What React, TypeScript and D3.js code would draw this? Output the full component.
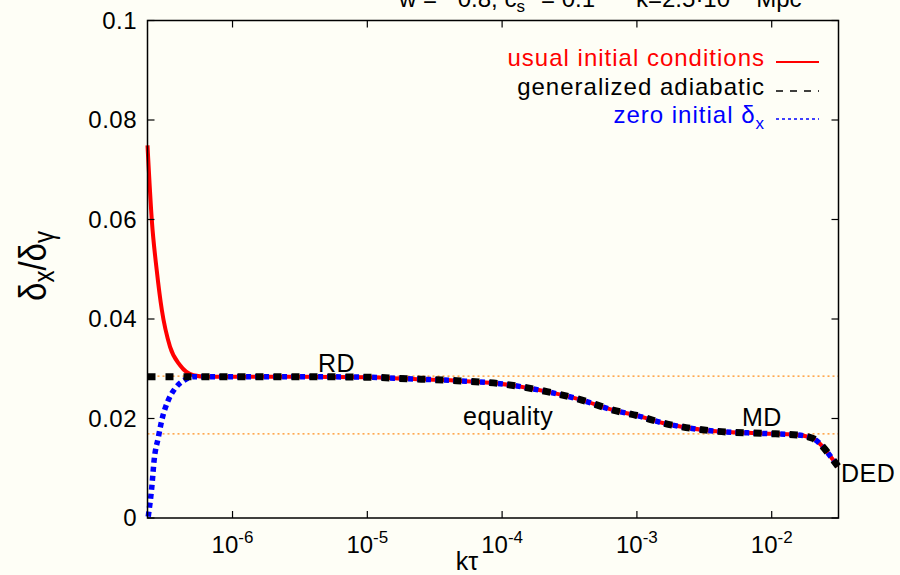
import React, { useEffect, useRef } from "react";
import * as d3 from "d3";

// shared tail: all three solutions merge after ~6e-7
const tailK = [6.44e-7, 1e-6, 3.16e-6, 1e-5, 1.97e-5, 4.62e-5, 9.64e-5, 2.15e-4, 3.8e-4, 6.65e-4, 1.0e-3, 1.56e-3, 3.67e-3, 8.63e-3, 1.54e-2, 2.02e-2, 2.4e-2, 2.85e-2, 3.1e-2];
const tailV = [0.0284, 0.0284, 0.0284, 0.0283, 0.028, 0.0276, 0.027, 0.0254, 0.0238, 0.0217, 0.0206, 0.0191, 0.0175, 0.017, 0.0167, 0.016, 0.0143, 0.0117, 0.0104];

// usual initial conditions (red)
const usualK = [2.34e-7, 2.52e-7, 2.74e-7, 2.99e-7, 3.44e-7, 4.08e-7, 5.12e-7];
const usualV = [0.0749, 0.0598, 0.0498, 0.0418, 0.0344, 0.0307, 0.0287];

// generalized adiabatic (black dashed)
const adiabK = [2.34e-7, 5.12e-7];
const adiabV = [0.0284, 0.0284];

// zero initial delta_x (blue dotted)
const zeroK = [2.37e-7, 2.52e-7, 2.62e-7, 2.82e-7, 2.99e-7, 3.34e-7, 3.74e-7, 4.32e-7, 5.12e-7];
const zeroV = [0.0003, 0.0063, 0.0116, 0.0163, 0.0197, 0.0237, 0.026, 0.0276, 0.0284];

// reference levels (RD plateau, MD plateau)
const levels = [0.0285, 0.0169];

const xTicks = [1e-6, 1e-5, 1e-4, 1e-3, 1e-2];
const xTickExp = ["-6", "-5", "-4", "-3", "-2"];
const yTicks = [0, 0.02, 0.04, 0.06, 0.08, 0.1];
const yTickLabels = ["0", "0.02", "0.04", "0.06", "0.08", "0.1"];

const legendLabels = ["usual initial conditions", "generalized adiabatic", "zero initial δ"];
const legendColors = ["#ff0000", "#000000", "#0000ff"];

const FONT = "'Liberation Sans', Arial, Helvetica, sans-serif";

const App = () => {
  const svgRef = useRef(null);

  useEffect(() => {
    document.body.style.margin = "0";
    document.body.style.background = "#fefef6";

    const svg = d3.select(svgRef.current);
    svg.selectAll("*").remove();

    const left = 147.5, right = 838.5, top = 20.5, bottom = 518;
    const x = d3.scaleLog().domain([2.34e-7, 3.13e-2]).range([left, right]);
    const y = d3.scaleLinear().domain([0, 0.1]).range([bottom, top]);

    svg.append("rect").attr("width", 900).attr("height", 575).attr("fill", "#fefef6");

    const toPts = (ks, vs) => ks.map((k, i) => [k, vs[i]]);
    const tail = toPts(tailK, tailV);
    const line = d3.line()
      .x(d => x(d[0]))
      .y(d => y(d[1]))
      .curve(d3.curveMonotoneX);

    // dotted reference levels
    svg.selectAll(".lvl")
      .data(levels)
      .enter()
      .append("line")
      .attr("x1", left).attr("x2", right)
      .attr("y1", d => y(d)).attr("y2", d => y(d))
      .attr("stroke", "#ff8c1a")
      .attr("stroke-width", 1.2)
      .attr("stroke-dasharray", "2,3");

    const plot = svg.append("g");
    plot.append("path")
      .attr("d", line(toPts(usualK, usualV).concat(tail)))
      .attr("fill", "none").attr("stroke", "#ff0000").attr("stroke-width", 4);
    plot.append("path")
      .attr("d", line(toPts(zeroK, zeroV).concat(tail)))
      .attr("fill", "none").attr("stroke", "#0000ff").attr("stroke-width", 5.5)
      .attr("stroke-dasharray", "5,4");
    plot.append("path")
      .attr("d", line(toPts(adiabK, adiabV).concat(tail)))
      .attr("fill", "none").attr("stroke", "#000000").attr("stroke-width", 7)
      .attr("stroke-dasharray", "8,10");

    // frame
    svg.append("rect")
      .attr("x", left).attr("y", top)
      .attr("width", right - left).attr("height", bottom - top)
      .attr("fill", "none").attr("stroke", "#000").attr("stroke-width", 1.5);

    // ticks on all four sides, pointing inward
    const tl = 7;
    xTicks.forEach(t => {
      svg.append("line").attr("x1", x(t)).attr("x2", x(t)).attr("y1", bottom).attr("y2", bottom - tl).attr("stroke", "#000").attr("stroke-width", 1.2);
      svg.append("line").attr("x1", x(t)).attr("x2", x(t)).attr("y1", top).attr("y2", top + tl).attr("stroke", "#000").attr("stroke-width", 1.2);
    });
    yTicks.forEach(t => {
      svg.append("line").attr("x1", left).attr("x2", left + tl).attr("y1", y(t)).attr("y2", y(t)).attr("stroke", "#000").attr("stroke-width", 1.2);
      svg.append("line").attr("x1", right).attr("x2", right - tl).attr("y1", y(t)).attr("y2", y(t)).attr("stroke", "#000").attr("stroke-width", 1.2);
    });

    const txt = svg.append("g").attr("font-family", FONT).attr("fill", "#000");

    // y tick labels
    yTicks.forEach((t, i) => {
      txt.append("text")
        .attr("x", 137).attr("y", y(t) + 8)
        .attr("text-anchor", "end").attr("font-size", 24)
        .attr("letter-spacing", 0.5)
        .text(yTickLabels[i]);
    });

    // x tick labels 10^n
    xTicks.forEach((t, i) => {
      const el = txt.append("text")
        .attr("x", x(t)).attr("y", 553)
        .attr("text-anchor", "middle").attr("font-size", 24);
      el.append("tspan").text("10");
      el.append("tspan").attr("font-size", 17).attr("dy", -10).text(xTickExp[i]);
    });

    // axis titles
    txt.append("text")
      .attr("x", 467).attr("y", 570)
      .attr("text-anchor", "middle").attr("font-size", 25)
      .text("kτ");

    const yl = txt.append("text")
      .attr("transform", "translate(46,266) scale(1.2,1) rotate(-90)")
      .attr("text-anchor", "middle").attr("font-size", 33);
    yl.append("tspan").text("δ");
    yl.append("tspan").attr("font-size", 24).attr("dy", 7).text("x");
    yl.append("tspan").attr("dy", -7).text("/δ");
    yl.append("tspan").attr("font-size", 24).attr("dy", 7).text("γ");

    // title, mostly cut off at the top edge
    const t1 = txt.append("text").attr("x", 399).attr("y", 7).attr("font-size", 24);
    t1.append("tspan").text("w = −0.8, c");
    t1.append("tspan").attr("font-size", 17).attr("dy", 5).text("s");
    t1.append("tspan").attr("font-size", 17).attr("dy", -15).text("2");
    t1.append("tspan").attr("dy", 10).text(" = 0.1");
    const t2 = txt.append("text").attr("x", 636).attr("y", 7).attr("font-size", 24);
    t2.append("tspan").text("k=2.5·10");
    t2.append("tspan").attr("font-size", 17).attr("dy", -10).text("−3");
    t2.append("tspan").attr("dy", 10).text(" Mpc");
    t2.append("tspan").attr("font-size", 17).attr("dy", -10).text("−1");

    // regime labels
    const regimes = [
      { label: "RD", x: 318, y: 372 },
      { label: "equality", x: 463, y: 425 },
      { label: "MD", x: 742, y: 426 },
      { label: "DED", x: 841, y: 482 },
    ];
    regimes.forEach(r => {
      txt.append("text").attr("x", r.x).attr("y", r.y).attr("font-size", 25)
        .attr("letter-spacing", 0.5).text(r.label);
    });

    // legend
    const legBase = [66, 95, 123];
    legendLabels.forEach((lab, i) => {
      const el = txt.append("text")
        .attr("x", 765).attr("y", legBase[i])
        .attr("text-anchor", "end").attr("font-size", 24)
        .attr("letter-spacing", 1)
        .attr("fill", legendColors[i]);
      el.append("tspan").text(lab);
      if (i === 2) el.append("tspan").attr("font-size", 17).attr("dy", 6).text("x");
      const ly = legBase[i] - 4;
      svg.append("line")
        .attr("x1", 776).attr("x2", 819).attr("y1", ly).attr("y2", ly)
        .attr("stroke", legendColors[i])
        .attr("stroke-width", i === 0 ? 2 : 1.5)
        .attr("stroke-dasharray", i === 0 ? null : i === 1 ? "7,7" : "3,3");
    });
  }, []);

  return (
    <div style={{ position: "absolute", left: 0, top: 0 }}>
      <svg ref={svgRef} width={900} height={575} style={{ display: "block" }}></svg>
    </div>
  );
};

export default App;
